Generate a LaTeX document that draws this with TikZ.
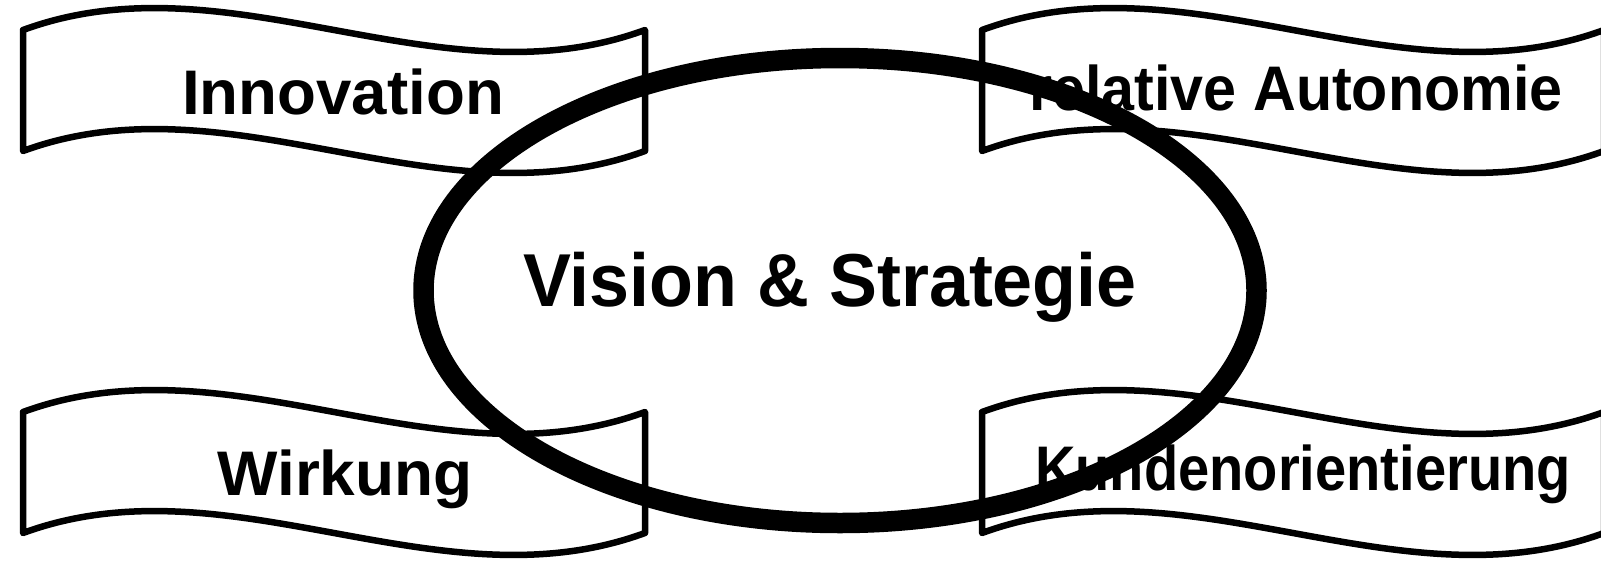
\documentclass[tikz,border=0pt]{standalone}
\usepackage{fontspec}
\setmainfont{Liberation Sans}
\begin{document}
\begin{tikzpicture}[x=1pt,y=-1pt]
\useasboundingbox (0,0) rectangle (1601,563);
\tikzset{
  banner/.style={draw=black, line width=6.5pt, fill=white, line join=round},
  lbl/.style={font=\fontsize{63}{70}\selectfont\bfseries, inner sep=0pt, anchor=base},
  biglbl/.style={font=\fontsize{75}{80}\selectfont\bfseries, inner sep=0pt, anchor=base},
  ring/.style={draw=black, line width=20.5pt}
}
\newcommand\wavebanner[2]{%
  \path[banner] (#1,#2) .. controls (#1+207,#2-76) and (#1+415,#2+76) .. (#1+622,#2)
    -- (#1+622,#2+121) .. controls (#1+415,#2+197) and (#1+207,#2+45) .. (#1,#2+121) -- cycle;}
\wavebanner{23}{30}
\wavebanner{982}{30}
\wavebanner{23}{412}
\wavebanner{982}{412}
\node[lbl] (inno) at (343,114.5) {\scalebox{1.01}[1]{Innovation}};
\node[lbl] (auto) at (1296,110) {\scalebox{0.94}[1]{relative Autonomie}};
\node[lbl] (wirk) at (345,495) {\scalebox{1.015}[1]{Wirkung}};
\node[lbl] (kund) at (1303,490) {\scalebox{0.89}[1]{Kundenorientierung}};
\node[biglbl] (vis) at (830,306) {\scalebox{0.958}[1]{Vision \& Strategie}};
\path[ring] (840,290.5) ellipse [x radius=416.5, y radius=232.5];
\end{tikzpicture}
\end{document}
